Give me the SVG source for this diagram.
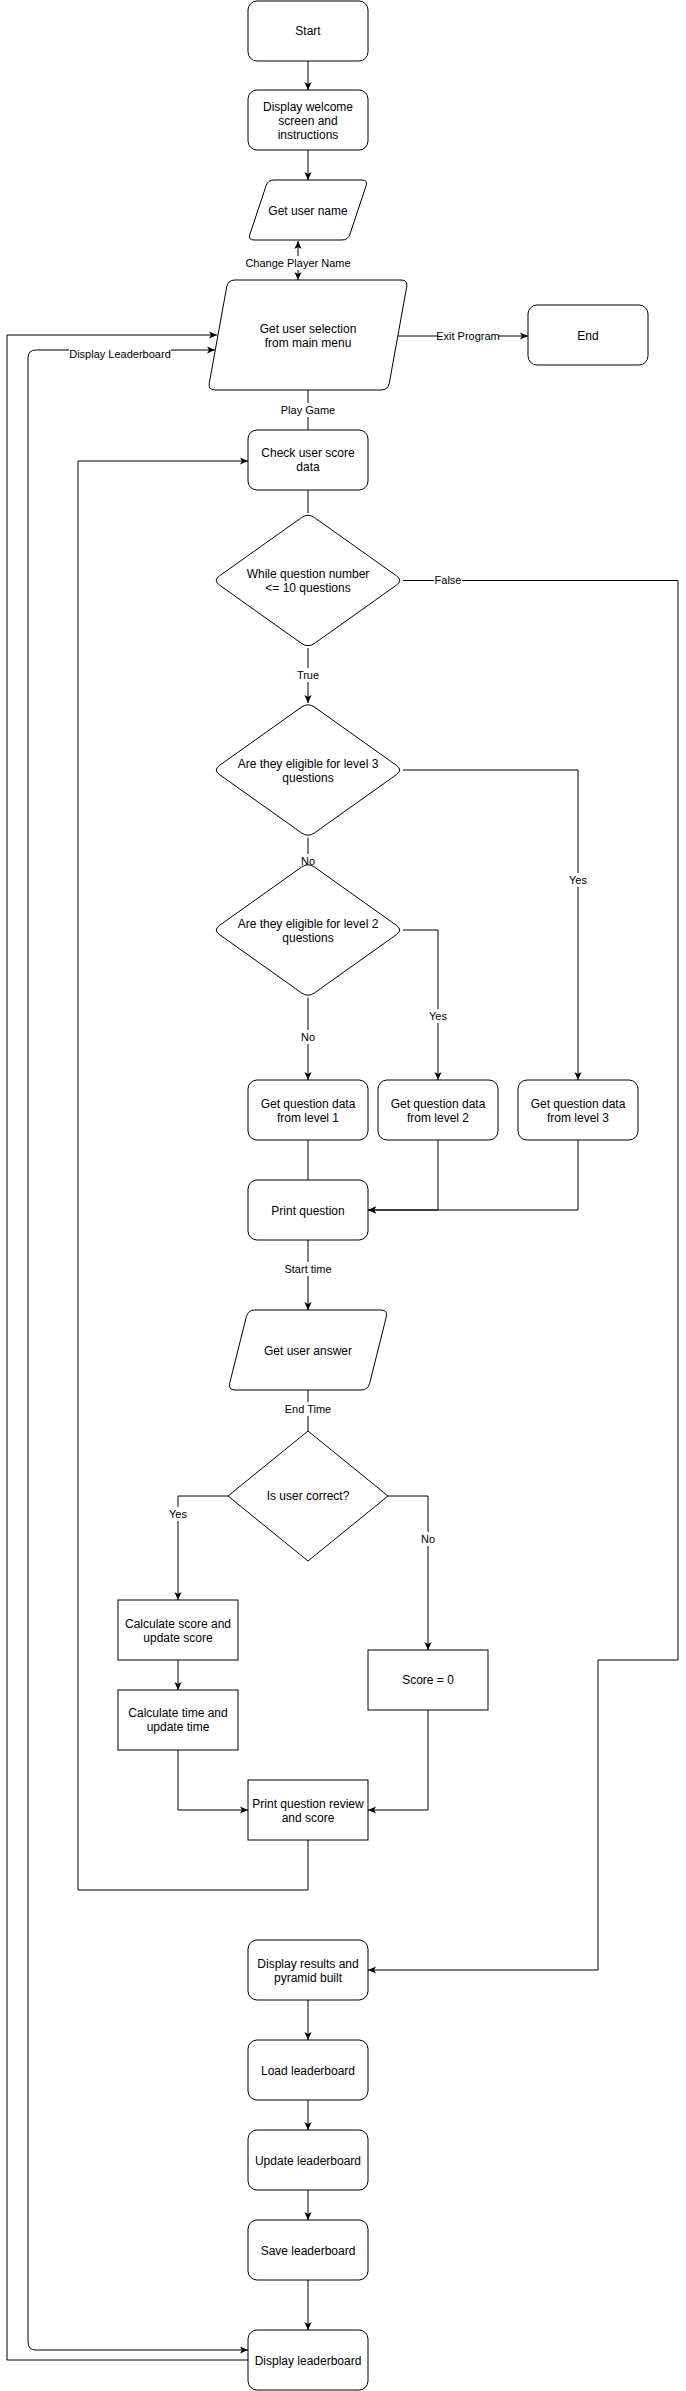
<svg xmlns="http://www.w3.org/2000/svg" width="686" height="2391" viewBox="0 0 686 2391">
<style>
.n{fill:#fff;stroke:#000;stroke-width:1}
.t{font-family:"Liberation Sans",Arial,sans-serif;font-size:12px;fill:#000;text-anchor:middle}
.l{font-family:"Liberation Sans",Arial,sans-serif;font-size:11px;fill:#000;text-anchor:middle}
.e{fill:none;stroke:#000;stroke-width:1}
.a{marker-end:url(#arr)}
.b{marker-start:url(#arr)}
.bg{fill:#fff;stroke:none}
</style>
<defs>
<marker id="arr" viewBox="0 0 10 10" refX="10" refY="5" markerWidth="8" markerHeight="8" markerUnits="userSpaceOnUse" orient="auto-start-reverse">
<path d="M0,0.5 L10,5 L0,9.5 L2.5,5 Z" fill="#000"/>
</marker>
<path id="rd" d="M-6.5,-62.9 Q0,-67.5 6.5,-62.9 L88.5,-4.6 Q95,0 88.5,4.6 L6.5,62.9 Q0,67.5 -6.5,62.9 L-88.5,4.6 Q-95,0 -88.5,-4.6 Z"/>
</defs>
<rect width="686" height="2391" fill="#fff"/>
<g id="connectors">
<path class="e a" d="M308,61 L308,90"/>
<path class="e a" d="M308,150 L308,180"/>
<path class="e a b" d="M298,280 L298,241"/>
<path class="e a" d="M398,336 L528,336"/>
<path class="e a" d="M248,2360 L7,2360 L7,335 L217,335"/>
<path class="e a b" d="M248,2350 L36,2350 Q28,2350 28,2342 L28,358 Q28,350 36,350 L215,350"/>
<path class="e" d="M308,390 L308,430"/>
<path class="e" d="M308,490 L308,513"/>
<path class="e a" d="M403,580.5 L678,580.5 L678,1660 L598,1660 L598,1970 L368,1970"/>
<path class="e a" d="M308,648 L308,703"/>
<path class="e a" d="M403,770 L578,770 L578,1080"/>
<path class="e a" d="M308,837.5 L308,862.5"/>
<path class="e a" d="M403,930 L438,930 L438,1080"/>
<path class="e a" d="M308,997.5 L308,1080"/>
<path class="e" d="M308,1140 L308,1180"/>
<path class="e a" d="M438,1140 L438,1210 L368,1210"/>
<path class="e a" d="M578,1140 L578,1210 L368,1210"/>
<path class="e a" d="M308,1240 L308,1310"/>
<path class="e" d="M308,1390 L308,1431"/>
<path class="e a" d="M228,1496 L178,1496 L178,1600"/>
<path class="e a" d="M388,1496 L428,1496 L428,1650"/>
<path class="e a" d="M178,1660 L178,1690"/>
<path class="e a" d="M178,1750 L178,1810 L248,1810"/>
<path class="e a" d="M428,1710 L428,1810 L368,1810"/>
<path class="e a" d="M308,1840 L308,1890 L78,1890 L78,461 L248,461"/>
<path class="e a" d="M308,2000 L308,2040"/>
<path class="e a" d="M308,2100 L308,2130"/>
<path class="e a" d="M308,2190 L308,2220"/>
<path class="e a" d="M308,2280 L308,2330"/>
<g id="edge-labels">
<rect class="bg" x="246" y="256" width="104" height="14"/><text class="l" x="298" y="267">Change Player Name</text>
<rect class="bg" x="438" y="329" width="60" height="14"/><text class="l" x="468" y="340">Exit Program</text>
<rect class="bg" x="69" y="347" width="102" height="14"/><text class="l" x="120" y="358">Display Leaderboard</text>
<rect class="bg" x="281" y="403" width="54" height="14"/><text class="l" x="308" y="414">Play Game</text>
<rect class="bg" x="434" y="573" width="28" height="14"/><text class="l" x="448" y="584">False</text>
<rect class="bg" x="296" y="668" width="24" height="14"/><text class="l" x="308" y="679">True</text>
<rect class="bg" x="568" y="873" width="20" height="14"/><text class="l" x="578" y="884">Yes</text>
<rect class="bg" x="300" y="854" width="16" height="14"/><text class="l" x="308" y="865">No</text>
<rect class="bg" x="428" y="1009" width="20" height="14"/><text class="l" x="438" y="1020">Yes</text>
<rect class="bg" x="300" y="1030" width="16" height="14"/><text class="l" x="308" y="1041">No</text>
<rect class="bg" x="284" y="1262" width="48" height="14"/><text class="l" x="308" y="1273">Start time</text>
<rect class="bg" x="284" y="1402" width="48" height="14"/><text class="l" x="308" y="1413">End Time</text>
<rect class="bg" x="168" y="1507" width="20" height="14"/><text class="l" x="178" y="1518">Yes</text>
<rect class="bg" x="420" y="1532" width="16" height="14"/><text class="l" x="428" y="1543">No</text>
</g>
</g>
<g id="start"><rect class="n" x="248" y="1" width="120" height="60" rx="9"/><text class="t" x="308" y="35">Start</text></g>
<g id="welcome"><rect class="n" x="248" y="90" width="120" height="60" rx="9"/><text class="t" x="308" y="111">Display welcome</text><text class="t" x="308" y="125">screen and</text><text class="t" x="308" y="139">instructions</text></g>
<g id="username"><path class="n" d="M274,180 L362,180 Q368,180 366.1,185.7 L349.9,234.3 Q348,240 342,240 L254,240 Q248,240 249.9,234.3 L266.1,185.7 Q268,180 274,180 Z"/><text class="t" x="308" y="215">Get user name</text></g>
<g id="menu"><path class="n" d="M235,280 L401,280 Q408,280 406.7,286.9 L389.3,383.1 Q388,390 381,390 L215,390 Q208,390 209.3,383.1 L226.7,286.9 Q228,280 235,280 Z"/><text class="t" x="308" y="333">Get user selection</text><text class="t" x="308" y="347">from main menu</text></g>
<g id="end"><rect class="n" x="528" y="305" width="120" height="60" rx="9"/><text class="t" x="588" y="340">End</text></g>
<g id="check"><rect class="n" x="248" y="430" width="120" height="60" rx="9"/><text class="t" x="308" y="457">Check user score</text><text class="t" x="308" y="471">data</text></g>
<g id="loop"><use href="#rd" class="n" transform="translate(308,580.5)"/><text class="t" x="308" y="578">While question number</text><text class="t" x="308" y="592">&lt;= 10 questions</text></g>
<g id="level3check"><use href="#rd" class="n" transform="translate(308,770)"/><text class="t" x="308" y="768">Are they eligible for level 3</text><text class="t" x="308" y="782">questions</text></g>
<g id="level2check"><use href="#rd" class="n" transform="translate(308,930)"/><text class="t" x="308" y="928">Are they eligible for level 2</text><text class="t" x="308" y="942">questions</text></g>
<g id="level1"><rect class="n" x="248" y="1080" width="120" height="60" rx="9"/><text class="t" x="308" y="1108">Get question data</text><text class="t" x="308" y="1122">from level 1</text></g>
<g id="level2"><rect class="n" x="378" y="1080" width="120" height="60" rx="9"/><text class="t" x="438" y="1108">Get question data</text><text class="t" x="438" y="1122">from level 2</text></g>
<g id="level3"><rect class="n" x="518" y="1080" width="120" height="60" rx="9"/><text class="t" x="578" y="1108">Get question data</text><text class="t" x="578" y="1122">from level 3</text></g>
<g id="printq"><rect class="n" x="248" y="1180" width="120" height="60" rx="9"/><text class="t" x="308" y="1215">Print question</text></g>
<g id="answer"><path class="n" d="M255,1310 L381,1310 Q388,1310 386.3,1316.8 L369.7,1383.2 Q368,1390 361,1390 L235,1390 Q228,1390 229.7,1383.2 L246.3,1316.8 Q248,1310 255,1310 Z"/><text class="t" x="308" y="1355">Get user answer</text></g>
<g id="correct"><path class="n" d="M308,1431 L388,1496 L308,1561 L228,1496 Z"/><text class="t" x="308" y="1500">Is user correct?</text></g>
<g id="calcscore"><rect class="n" x="118" y="1600" width="120" height="60"/><text class="t" x="178" y="1628">Calculate score and</text><text class="t" x="178" y="1642">update score</text></g>
<g id="score0"><rect class="n" x="368" y="1650" width="120" height="60"/><text class="t" x="428" y="1684">Score = 0</text></g>
<g id="calctime"><rect class="n" x="118" y="1690" width="120" height="60"/><text class="t" x="178" y="1717">Calculate time and</text><text class="t" x="178" y="1731">update time</text></g>
<g id="review"><rect class="n" x="248" y="1780" width="120" height="60"/><text class="t" x="308" y="1808">Print question review</text><text class="t" x="308" y="1822">and score</text></g>
<g id="results"><rect class="n" x="248" y="1940" width="120" height="60" rx="9"/><text class="t" x="308" y="1968">Display results and</text><text class="t" x="308" y="1982">pyramid built</text></g>
<g id="load"><rect class="n" x="248" y="2040" width="120" height="60" rx="9"/><text class="t" x="308" y="2075">Load leaderboard</text></g>
<g id="update"><rect class="n" x="248" y="2130" width="120" height="60" rx="9"/><text class="t" x="308" y="2165">Update leaderboard</text></g>
<g id="save"><rect class="n" x="248" y="2220" width="120" height="60" rx="9"/><text class="t" x="308" y="2255">Save leaderboard</text></g>
<g id="display"><rect class="n" x="248" y="2330" width="120" height="60" rx="9"/><text class="t" x="308" y="2365">Display leaderboard</text></g>
</svg>
